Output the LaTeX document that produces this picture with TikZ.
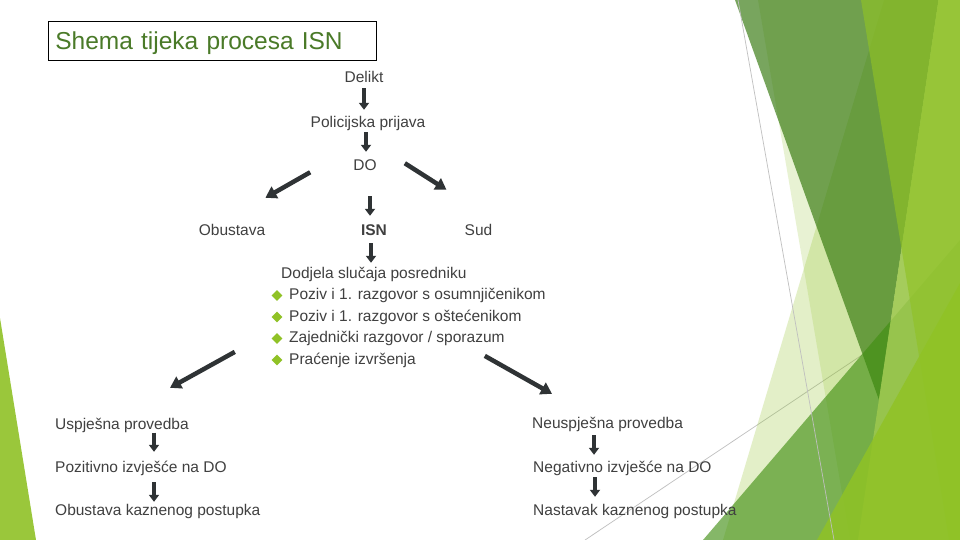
\documentclass[tikz,border=0pt]{standalone}
\usepackage{fontspec}
\setmainfont{Liberation Sans}
\usetikzlibrary{arrows.meta, shapes.geometric, calc, fit}

\definecolor{facetgreen}{HTML}{90C226}
\definecolor{facetlight}{HTML}{9EC84F}
\definecolor{deepgreen}{HTML}{307508}
\definecolor{leafgreen}{HTML}{3F8E10}
\definecolor{titlegreen}{HTML}{4A7A28}
\definecolor{txtgray}{HTML}{404040}
\definecolor{arrowgray}{HTML}{2F3335}
\definecolor{rulegray}{HTML}{BFBFBF}

\begin{document}
\begin{tikzpicture}[
    x=1pt, y=-1pt,
    lbl/.style      ={inner sep=0pt, text=txtgray, text height=11pt, text depth=3.5pt,
                      font=\fontsize{15.5}{18}\selectfont},
    titlebox/.style ={draw=black, line width=0.8pt, anchor=north west, inner xsep=7pt,
                      minimum height=39pt, text width=314pt, align=left,
                      text height=17pt, text depth=0pt, text=titlegreen,
                      font=\fontsize{24.5}{28}\selectfont},
    bullet/.style   ={diamond, fill=facetgreen, inner sep=0pt, minimum width=11pt,
                      minimum height=11pt},
    blk/.style      ={-{Triangle[length=7pt, width=10pt]}, line width=4pt, draw=arrowgray},
    blkdiag/.style  ={-{Triangle[length=11pt, width=13pt]}, line width=4.5pt, draw=arrowgray},
    rule/.style     ={draw=rulegray, line width=0.7pt}
]
\useasboundingbox (0,0) rectangle (960,540);
\fill[white] (0,0) rectangle (960,540);

% =================== BACKGROUND: green facets ===================
\draw[rule] (585,540) -- (862,355);
\fill[facetgreen, opacity=0.25] (884,0) -- (960,0) -- (960,540) -- (723,540) -- cycle;
\fill[facetgreen, opacity=0.2]  (758,0) -- (960,0) -- (960,540) -- (850,540) -- cycle;
\fill[deepgreen, opacity=0.65]  (735,0) -- (938.5,0) -- (879,400) -- cycle;
\fill[leafgreen, opacity=0.63]  (703,540) -- (960,240) -- (960,540) -- cycle;
\fill[facetlight, opacity=0.85] (938.5,0) -- (960,0) -- (960,540) -- (858,540) -- cycle;
\fill[facetgreen, opacity=0.65] (861,0) -- (960,0) -- (960,540) -- (949,540) -- cycle;
\fill[facetgreen, opacity=0.85] (817,540) -- (960,283) -- (960,540) -- cycle;
\fill[facetgreen, opacity=0.9]  (0,318) -- (36,540) -- (0,540) -- cycle;
\draw[rule] (738,0) -- (834,540);

% =================== TITLE ===================
\node[titlebox] (naslov) at (48,21) {Shema tijeka procesa ISN};

% =================== TOP: delikt -> DO -> branches ===================
\node[lbl, anchor=base] (delikt)   at (364,83)    {Delikt};
\node[lbl, anchor=base] (prijava)  at (368,128)   {Policijska prijava};
\node[lbl, anchor=base] (odvj)     at (365,171)   {DO};
\node[lbl, anchor=base] (obustava) at (232,235)   {Obustava};
\node[lbl, anchor=base, font=\fontsize{15.5}{18}\selectfont\bfseries] (isn) at (374,235) {ISN};
\node[lbl, anchor=base] (sud)      at (478.5,235) {Sud};

% Mediation steps
\node[lbl, anchor=base west] (dodjela) at (281,278) {Dodjela slučaja posredniku};
\foreach \txt [count=\i] in {Poziv i 1. razgovor s osumnjičenikom,
                             Poziv i 1. razgovor s oštećenikom,
                             Zajednički razgovor / sporazum,
                             Praćenje izvršenja} {
    \node[lbl, anchor=base west] (korak\i) at (289,{278+21.5*\i}) {\txt};
    \node[bullet] (tocka\i) at ([xshift=-12pt, yshift=4pt]korak\i.base west) {};
}
\node[fit=(dodjela)(korak1)(korak4), inner sep=0pt] (popis) {};

% =================== BOTTOM: outcomes ===================
\node[lbl, anchor=base west] (uspjesna)   at (55,429)  {Uspješna provedba};
\node[lbl, anchor=base west] (pozitivno)  at (55,472)  {Pozitivno izvješće na DO};
\node[lbl, anchor=base west] (obustkp)    at (55,515)  {Obustava kaznenog postupka};
\node[lbl, anchor=base west] (neuspjesna) at (532,428) {Neuspješna provedba};
\node[lbl, anchor=base west] (negativno)  at (533,472) {Negativno izvješće na DO};
\node[lbl, anchor=base west] (nastavak)   at (533,515) {Nastavak kaznenog postupka};

% --- Arrows ---
\draw[blk, shorten <=1.5pt, shorten >=7pt] (delikt.south) -- (delikt.south |- prijava.north);
\draw[blk, shorten <=0.5pt, shorten >=8pt]
    ($(prijava.south)+(-2,0)$) -- ($(prijava.south |- odvj.north)+(-2,0)$);
\draw[blk, shorten <=21.5pt, shorten >=8pt]
    ($(odvj.south)+(5,0)$) -- ($(odvj.south |- isn.north)+(5,0)$);
\draw[blk, shorten <=4.5pt, shorten >=4pt]
    ($(isn.south)+(-3,0)$) -- ($(isn.south |- dodjela.north)+(-3,0)$);

% DO branches
\draw[blkdiag] ([xshift=-43pt, yshift=-5pt]odvj.west) -- ([yshift=26pt]obustava.north east);
\draw[blkdiag] ([xshift=28pt, yshift=4pt]odvj.east) -- ([xshift=-18pt, yshift=34pt]sud.north west);

% Outcome branches
\draw[blkdiag] ([xshift=-46pt, yshift=16pt]popis.south west) -- ([xshift=115pt, yshift=30pt]uspjesna.north west);
\draw[blkdiag] ([xshift=204pt, yshift=12pt]popis.south west) -- ([xshift=20pt, yshift=23pt]neuspjesna.north west);

% Left column
\draw[blk, shorten >=9pt]
    ($(uspjesna.south west)+(99,0)$) -- ($(uspjesna.south west |- pozitivno.north)+(99,0)$);
\draw[blk, shorten <=6.5pt, shorten >=2pt]
    ($(pozitivno.south west)+(99,0)$) -- ($(pozitivno.south west |- obustkp.north)+(99,0)$);

% Right column
\draw[blk, shorten <=3.5pt, shorten >=6pt]
    ($(neuspjesna.south west)+(62,0)$) -- ($(neuspjesna.south west |- negativno.north)+(62,0)$);
\draw[blk, shorten <=1.5pt, shorten >=7pt]
    ($(negativno.south west)+(62,0)$) -- ($(negativno.south west |- nastavak.north)+(62,0)$);

\end{tikzpicture}
\end{document}
